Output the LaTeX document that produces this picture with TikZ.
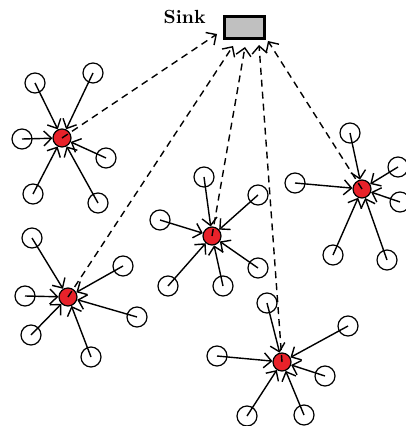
\documentclass[tikz,border=0pt]{standalone}
\usepackage{tikz}
\usetikzlibrary{arrows.meta}
\definecolor{headred}{HTML}{E8222A}
\definecolor{sinkgray}{HTML}{C0C0C0}

\begin{document}
\begin{tikzpicture}[x=0.5pt, y=-0.5pt,
  member/.style={circle, draw, line width=0.6pt, minimum size=10pt, inner sep=0pt},
  head/.style={circle, draw, fill=headred, line width=0.6pt, minimum size=9pt, inner sep=0pt},
  sinkbox/.style={rectangle, draw, fill=sinkgray, line width=1.6pt, minimum width=20pt, minimum height=11pt, inner sep=0pt},
  link/.style={line width=0.7pt, -{Straight Barb[length=3.8pt,width=7.5pt]}},
  report/.style={link, dash pattern=on 3.5pt off 2.5pt}]
  \useasboundingbox (0,0) rectangle (405,426);

  \node[sinkbox] (sink) at (244.5,27.5) {};
  \node[anchor=east, inner sep=0pt, font=\fontsize{9.5}{10}\selectfont\bfseries] (sinklabel) at (206,17) {Sink};

  \coordinate (in1) at (217,34);
  \coordinate (in4) at (233,46);
  \coordinate (in3) at (245,47);
  \coordinate (in5) at (259,45);
  \coordinate (in2) at (268,41);

  \node[head] (h1) at (62,138) {};
  \node[head] (h2) at (362,189) {};
  \node[head] (h3) at (212,236) {};
  \node[head] (h4) at (68,297) {};
  \node[head] (h5) at (282,362) {};

  \node[member] (m1a) at (35,83) {};
  \node[member] (m1b) at (93,73) {};
  \node[member] (m1c) at (22,139) {};
  \node[member] (m1d) at (106,158) {};
  \node[member] (m1e) at (33,194) {};
  \node[member] (m1f) at (98,203) {};

  \node[member] (m2a) at (350,133) {};
  \node[member] (m2b) at (398,167) {};
  \node[member] (m2c) at (295,183) {};
  \node[member] (m2d) at (400,202) {};
  \node[member] (m2e) at (333,255) {};
  \node[member] (m2f) at (387,260) {};

  \node[member] (m3a) at (204,177) {};
  \node[member] (m3b) at (258,195) {};
  \node[member] (m3c) at (160,220) {};
  \node[member] (m3d) at (258,268) {};
  \node[member] (m3e) at (168,286) {};
  \node[member] (m3f) at (223,286) {};

  \node[member] (m4a) at (32,238) {};
  \node[member] (m4b) at (123,266) {};
  \node[member] (m4c) at (25,296) {};
  \node[member] (m4d) at (137,317) {};
  \node[member] (m4e) at (31,335) {};
  \node[member] (m4f) at (91,357) {};

  \node[member] (m5a) at (267,303) {};
  \node[member] (m5b) at (348,326) {};
  \node[member] (m5c) at (217,356) {};
  \node[member] (m5d) at (325,376) {};
  \node[member] (m5e) at (247,416) {};
  \node[member] (m5f) at (304,415) {};

  \draw[link] (m1a.center) -- (h1); \draw[link] (m1b.center) -- (h1);
  \draw[link] (m1c.center) -- (h1); \draw[link] (m1d.center) -- (h1);
  \draw[link] (m1e.center) -- (h1); \draw[link] (m1f.center) -- (h1);

  \draw[link] (m2a.center) -- (h2); \draw[link] (m2b.center) -- (h2);
  \draw[link] (m2c.center) -- (h2); \draw[link] (m2d.center) -- (h2);
  \draw[link] (m2e.center) -- (h2); \draw[link] (m2f.center) -- (h2);

  \draw[link] (m3a.center) -- (h3); \draw[link] (m3b.center) -- (h3);
  \draw[link] (m3c.center) -- (h3); \draw[link] (m3d.center) -- (h3);
  \draw[link] (m3e.center) -- (h3); \draw[link] (m3f.center) -- (h3);

  \draw[link] (m4a.center) -- (h4); \draw[link] (m4b.center) -- (h4);
  \draw[link] (m4c.center) -- (h4); \draw[link] (m4d.center) -- (h4);
  \draw[link] (m4e.center) -- (h4); \draw[link] (m4f.center) -- (h4);

  \draw[link] (m5a.center) -- (h5); \draw[link] (m5b.center) -- (h5);
  \draw[link] (m5c.center) -- (h5); \draw[link] (m5d.center) -- (h5);
  \draw[link] (m5e.center) -- (h5); \draw[link] (m5f.center) -- (h5);

  \draw[report] (h1.center) -- (in1);
  \draw[report] (h2.center) -- (in2);
  \draw[report] (h3.center) -- (in3);
  \draw[report] (h4.center) -- (in4);
  \draw[report] (h5.center) -- (in5);
\end{tikzpicture}
\end{document}
